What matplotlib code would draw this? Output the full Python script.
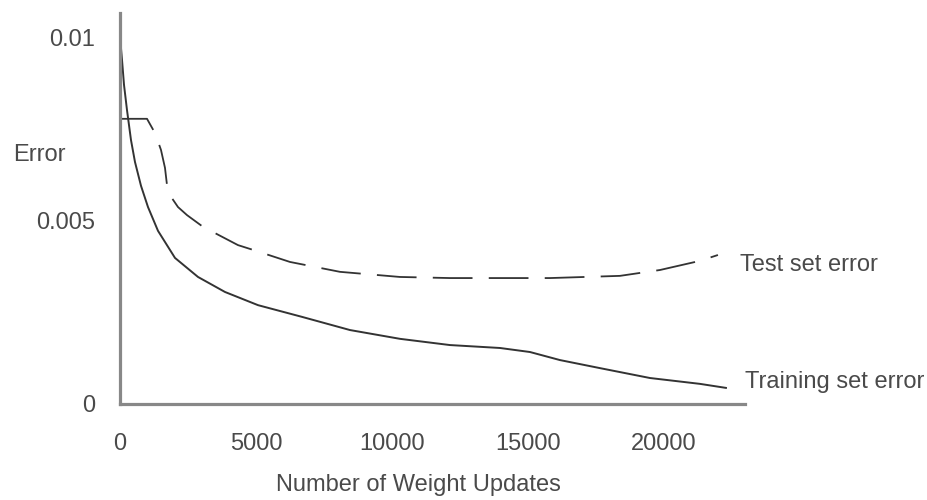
import matplotlib as mpl
mpl.use('Agg')
import matplotlib.pyplot as plt

train_x = [0, 74, 147, 257, 404, 551, 772, 1029, 1397, 2022, 2868, 3860, 5074,
           6691, 8456, 10294, 12132, 13971, 15074, 16176, 17647, 19485, 21324, 22279]
train_y = [0.01003, 0.0094, 0.00872, 0.00803, 0.00721, 0.00661, 0.00596, 0.00538,
           0.00473, 0.00399, 0.00347, 0.00306, 0.00270, 0.00238, 0.00202, 0.00178,
           0.00161, 0.00153, 0.00142, 0.00120, 0.00098, 0.00071, 0.00055, 0.00044]

test_x = [0, 993, 1287, 1507, 1654, 1728, 1875, 2132, 2463, 3051, 4338, 4890,
          6250, 8088, 10294, 12132, 15809, 18382, 19853, 21324, 21985]
test_y = [0.00779, 0.00779, 0.0074, 0.00694, 0.00645, 0.00598, 0.00566, 0.00538,
          0.00516, 0.00484, 0.00434, 0.00421, 0.00388, 0.00361, 0.00347, 0.00344,
          0.00344, 0.00350, 0.00366, 0.00391, 0.00407]

xticks = [0, 5000, 10000, 15000, 20000]
yticks = [0, 0.005, 0.01]
ytick_labels = ['0', '0.005', '0.01']

plt.rcParams['font.family'] = ['Liberation Sans', 'DejaVu Sans']
txt = '#4a4a4a'
fs = 17

fig = plt.figure(figsize=(9.27, 5), dpi=100)
ax = fig.add_axes([120 / 927, 96 / 500, 625 / 927, 391 / 500])

ax.plot(train_x, train_y, color='#333333', lw=1.4)
ax.plot(test_x, test_y, color='#333333', lw=1.3, linestyle=(0, (22, 9)))

ax.set_xlim(0, 22980)
ax.set_ylim(0, 0.01068)

for s in ['top', 'right']:
    ax.spines[s].set_visible(False)
for s in ['left', 'bottom']:
    ax.spines[s].set_color('#888888')
    ax.spines[s].set_linewidth(2.3)

ax.set_xticks(xticks)
ax.set_xticklabels([str(t) for t in xticks])
ax.set_yticks(yticks)
ax.set_yticklabels(ytick_labels)
ax.tick_params(axis='x', length=0, pad=21, labelsize=fs, labelcolor=txt)
ax.tick_params(axis='y', length=0, pad=18, labelsize=fs, labelcolor=txt)

ax.set_xlabel('Number of Weight Updates', fontsize=fs, color=txt, va='center')
ax.xaxis.set_label_coords(0.477, -0.207)
ax.set_ylabel('Error', fontsize=fs, color=txt, rotation=0, ha='left', va='center')
ax.yaxis.set_label_coords(-0.171, 0.637)

ax.text(22794, 0.00379, 'Test set error', fontsize=fs, color=txt,
        va='center', ha='left', clip_on=False)
ax.text(22978, 0.00060, 'Training set error', fontsize=fs, color=txt,
        va='center', ha='left', clip_on=False)

plt.savefig('out.png', dpi=100)
